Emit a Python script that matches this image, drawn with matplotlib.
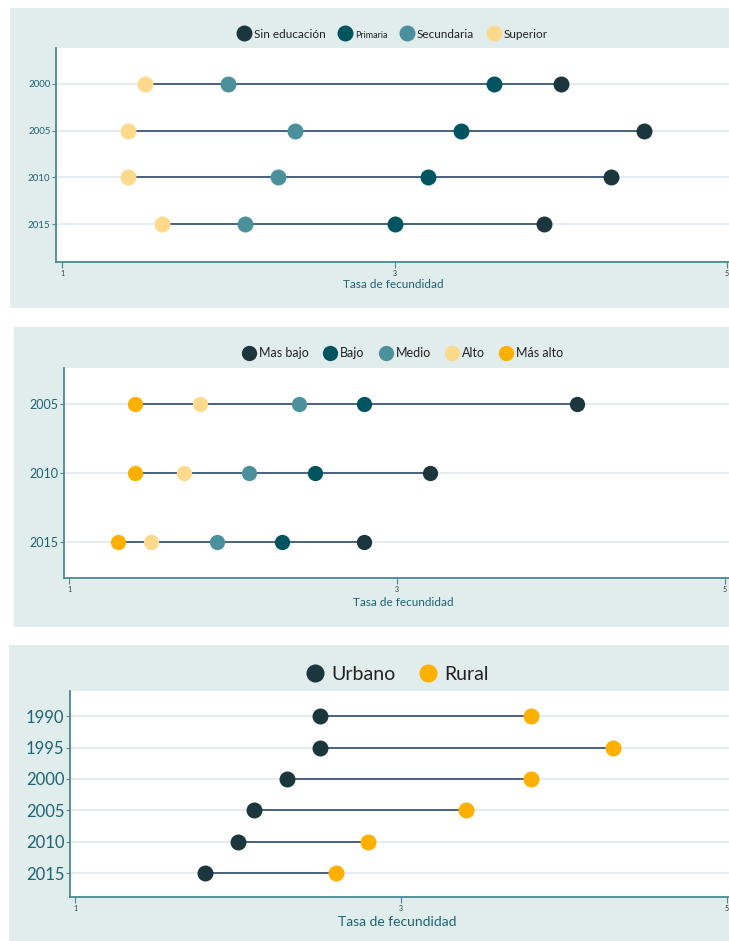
import matplotlib.pyplot as plt
from matplotlib.patches import Rectangle
from matplotlib.lines import Line2D
import numpy as np

plt.rcParams['font.family'] = ['Lato', 'DejaVu Sans']

# ── datos ────────────────────────────────────────────────────────────────
anios_edu = ["2000", "2005", "2010", "2015"]
sin_edu = [4.0, 4.5, 4.3, 3.9]
primaria = [3.6, 3.4, 3.2, 3.0]
secundaria = [2.0, 2.4, 2.3, 2.1]
superior = [1.5, 1.4, 1.4, 1.6]

anios_q = ["2005", "2010", "2015"]
mas_bajo = [4.1, 3.2, 2.8]
bajo = [2.8, 2.5, 2.3]
medio = [2.4, 2.1, 1.9]
alto = [1.8, 1.7, 1.5]
mas_alto = [1.4, 1.4, 1.3]

anios_area = ["1990", "1995", "2000", "2005", "2010", "2015"]
urbano = [2.5, 2.5, 2.3, 2.1, 2.0, 1.8]
rural = [3.8, 4.3, 3.8, 3.4, 2.8, 2.6]

C_OSCURO = "#1b363c"
C_PRIM = "#00545f"
C_SEC = "#4b919c"
C_SUP = "#fdd98b"
C_NAR = "#fdb000"
BG = "#e1ecec"
TEAL = "#4a8993"
TXT = "#1d6474"
GRID = "#e3ebf0"
LINEA = "#2e4b6b"

W, H = 729, 941
fig = plt.figure(figsize=(W / 100, H / 100), dpi=100)


def px_rect(x0, y0, x1, y1):
    return [x0 / W, 1 - y1 / H, (x1 - x0) / W, (y1 - y0) / H]


def panel(bg, plot, xlim, ylim, anios, series, ytick_fs, leg_fs, leg_y,
          leg_x, lab_fs, lab_y, msize, leg_ms=None):
    x0, y0, x1, y1 = bg
    fig.patches.append(Rectangle((x0 / W, 1 - y1 / H), (x1 - x0) / W,
                                 (y1 - y0) / H, transform=fig.transFigure,
                                 facecolor=BG, edgecolor="none", zorder=-5))
    ax = fig.add_axes(px_rect(*plot))
    ax.set_zorder(2)
    ax.set_facecolor("white")
    y = np.arange(len(anios))
    for yy in y:
        ax.axhline(yy, color=GRID, lw=1.3, zorder=1)
    vals = np.array([s[1] for s in series])
    ax.hlines(y, vals.min(axis=0), vals.max(axis=0), color=LINEA, lw=1.2,
              zorder=2)
    handles = []
    for nombre, v, c in series:
        ax.plot(v, y, "o", ms=msize, color=c, mec="none", zorder=3)
        handles.append(Line2D([], [], marker="o", ls="none",
                              ms=leg_ms or msize, color=c, mec="none",
                              label=nombre))
    ax.set_xlim(*xlim)
    ax.set_ylim(*ylim)
    ax.set_yticks(y)
    ax.set_yticklabels(anios, fontsize=ytick_fs, color=TXT)
    ax.set_xticks([1, 3, 5])
    ax.set_xticklabels(["1", "3", "5"], fontsize=5, color="#333333")
    for s in ["top", "right"]:
        ax.spines[s].set_visible(False)
    for s in ["left", "bottom"]:
        ax.spines[s].set_color(TEAL)
        ax.spines[s].set_linewidth(1.3)
    ax.tick_params(axis="x", colors=TEAL, length=4, width=0.8, pad=2)
    ax.tick_params(axis="x", labelcolor="#333333")
    ax.tick_params(axis="y", colors=TEAL, length=3, width=0.8, pad=1,
                   labelcolor=TXT)
    fig.text(leg_x / W, 1 - lab_y / H, "Tasa de fecundidad", fontsize=lab_fs,
             color=TXT, ha="center", va="center")
    leg = fig.legend(handles=handles, loc="center",
                     bbox_to_anchor=(leg_x / W, 1 - leg_y / H),
                     ncol=len(series), frameon=False, fontsize=leg_fs,
                     handletextpad=0.3, columnspacing=1.2, handlelength=1.0,
                     labelcolor="#222222")
    return ax, leg


# panel 1: nivel educativo
ax1, leg1 = panel((10, 8, 729, 308), (56, 48, 729, 262),
                  (1 - 6 / 166.25, 1 + 667 / 166.25), (3.81, -0.77),
                  anios_edu,
                  [("Sin educación", sin_edu, C_OSCURO),
                   ("Primaria", primaria, C_PRIM),
                   ("Secundaria", secundaria, C_SEC),
                   ("Superior", superior, C_SUP)],
                  7, 8.5, 34, 393, 8.5, 284, 11.5)
leg1.get_texts()[1].set_fontsize(6.5)

# panel 2: quintil de riqueza
panel((14, 327, 729, 627), (64, 368, 729, 578),
      (1 - 5 / 164, 1 + 660 / 164), (2.52, -0.52),
      anios_q,
      [("Mas bajo", mas_bajo, C_OSCURO),
       ("Bajo", bajo, C_PRIM),
       ("Medio", medio, C_SEC),
       ("Alto", alto, C_SUP),
       ("Más alto", mas_alto, C_NAR)],
      9, 9, 353, 403, 8.5, 603, 11)

# panel 3: área de residencia
panel((9, 645, 729, 941), (70, 691, 729, 897),
      (1 - 5 / 163, 1 + 654 / 163), (5.76, -0.8),
      anios_area,
      [("Urbano", urbano, C_OSCURO),
       ("Rural", rural, C_NAR)],
      12, 14, 674, 397, 10, 922, 11.5, leg_ms=13)

fig.savefig("out.png", dpi=100)
